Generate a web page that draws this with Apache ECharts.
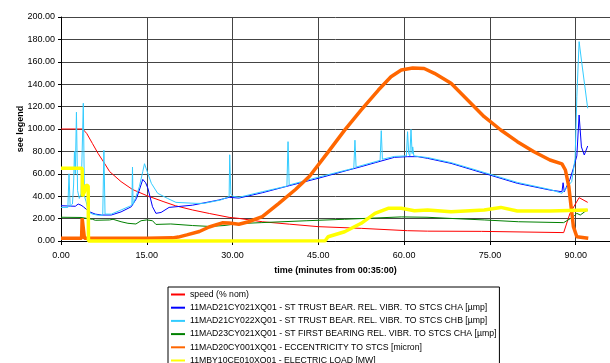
<!DOCTYPE html>
<html>
<head>
<meta charset="utf-8">
<script src="https://cdn.jsdelivr.net/npm/echarts@6/dist/echarts.min.js"></script>
<style>
  html, body { margin: 0; padding: 0; background: #fff; }
  #chart { width: 610px; height: 363px; }
</style>
</head>
<body>
<div id="chart"></div>
<script>
// Trend of turbine run-down: [minutes from 00:35:00, value]
var speedPts = [[0,100],[3.8,100],[4.5,96],[5.5,87],[6.5,78],[7.6,69.4],[8.5,62],[10.5,53],[12.5,46],[15,40.5],[18,35],[20,31.5],[23,27.7],[26,24.5],[29.4,21.1],[31.1,20.2],[35.2,17.2],[40,15],[45,12.8],[52.5,11.3],[60.6,9.2],[64.1,8.8],[73.5,8.6],[73.7,7.8],[87.9,7.5],[89,24.7],[90.6,38.7],[92.1,34.5]];

var chaPts = [[0,31.5],[2.5,31],[3,33],[3.5,32],[3.9,30.6],[4.5,28],[5,26],[6,24],[7.1,23.2],[8.8,23.2],[10.5,26],[12.3,30.6],[13.2,38],[13.7,45.5],[14.3,55],[14.8,52],[15.2,47],[16,30.6],[16.6,24.7],[17.5,25.5],[18.9,30],[21,31],[23,32],[25,34],[27.6,36.6],[29.4,39],[31.1,38.3],[35.2,43.1],[40,49.5],[45,56],[50,63],[52.5,66.4],[55,70],[58.3,74.7],[60.6,75.3],[62.4,75.3],[64.1,73.8],[68.2,69.3],[74,60.4],[79.8,51.5],[85.5,45.5],[87.6,44],[87.8,52],[88,44],[89,55],[89.6,65],[90.2,76],[90.6,112.5],[91,84],[91.5,76.8],[92.1,84.8]];

var chbPts = [[0,30],[1.2,30],[1.4,60],[1.6,31],[2,33],[2.2,50],[2.35,80],[2.5,60],[2.7,115],[2.9,45],[3.2,38],[3.5,42],[3.7,80],[3.9,123],[4.1,40],[4.4,35],[4.8,26],[5.5,24],[6.5,23],[7.3,23],[7.5,81],[7.7,24],[8.8,24],[10.5,27.7],[12,31],[12.4,32],[12.5,66],[12.6,33],[13,38],[13.7,48.5],[14.3,62],[14.6,69],[14.9,68],[15.8,51.5],[16.9,42.6],[18.6,38.1],[20.1,34.5],[23.6,33.6],[25,33.6],[27.9,36.6],[29.4,39.6],[29.5,77],[29.7,42],[30,40],[31.1,39],[35.2,44],[39.5,49],[39.7,88.7],[39.9,50],[45,57],[51.2,65],[51.4,90],[51.6,66],[55.8,72],[56,98.5],[56.2,73],[58.3,75.5],[60.4,76],[60.6,97.6],[60.8,78],[61,76],[61.2,99.7],[61.4,78],[61.5,84],[61.7,76],[64.1,74.5],[68.2,70],[74,61.2],[79.8,52.3],[85.5,46],[87.6,42.6],[87.9,42.6],[89.3,53],[89.9,73.8],[90.2,128.8],[90.6,178],[91,161.6],[92.1,118.5]];

var firstBrgPts = [[0,21.2],[3.5,21],[4.5,20.2],[5.5,19.4],[6,18.5],[8.5,18.8],[9.1,19.4],[10.5,17.2],[11.7,15.8],[13.1,15.2],[14,18.1],[15,18.8],[16,18.1],[16.6,14.8],[19.2,15.2],[23,13.8],[26,13],[28.5,13.8],[31,15.5],[35,16.4],[43,18.1],[49.6,19.4],[59.5,21.5],[64,21.2],[68,20.2],[74,18.8],[80,17.2],[87.9,16.4],[89.6,21.7],[90.2,24.7],[90.8,23.2],[91.6,26.2],[92.1,27.7]];

var eccPts = [[0,2.5],[3.6,2.5],[3.7,20.3],[3.9,20.3],[4.1,2.5],[10,2.5],[15,2.5],[19.5,2.8],[20.5,3.5],[22,5.5],[24.2,8.5],[25.9,12.5],[28.2,16.2],[29.4,16],[31.1,15],[32.8,17.2],[35.2,21.7],[38.1,33.6],[41,46],[43.5,58],[46.8,80],[49.6,99],[52.5,117],[55.5,134.8],[57.7,146.7],[59.5,152.7],[61.5,154.5],[63.5,154],[65.3,149.7],[68.2,140.8],[71.1,125.9],[74,111],[76.9,99.1],[79.8,88.7],[82.7,79.7],[85.5,72.3],[87.6,68.8],[88.2,63.4],[88.8,48.5],[89.2,30.6],[89.6,12.8],[90.2,3.8],[92.2,2.4]];

var loadPts = [[0,65],[3.7,65],[3.75,40],[4.1,44],[4.4,50],[4.75,49],[4.8,0],[20,0],[46.2,0.3],[46.7,3.8],[49.6,8.3],[52.5,15.8],[54.9,24.7],[57.2,29.2],[59.5,29.2],[61.8,27],[64.1,27.7],[68.2,26.2],[74,27.7],[76.9,30],[79.8,26.8],[85.5,26.8],[92.1,27.7]];

var seriesNames = [
  'speed (% nom)',
  '11MAD21CY021XQ01 - ST TRUST BEAR. REL. VIBR. TO STCS CHA [µmp]',
  '11MAD21CY022XQ01 - ST TRUST BEAR. REL. VIBR. TO STCS CHB [µmp]',
  '11MAD23CY021XQ01 - ST FIRST BEARING REL. VIBR. TO STCS CHA [µmp]',
  '11MAD20CY001XQ01 - ECCENTRICITY TO STCS [micron]',
  '11MBY10CE010XQ01 - ELECTRIC LOAD [MW]'
];
var seriesData = [speedPts, chaPts, chbPts, firstBrgPts, eccPts, loadPts];
var seriesColors = ['#FF0000', '#0000FF', '#33CCFF', '#008000', '#FF6600', '#FFFF00'];
var seriesWidths = [1, 1, 1, 1, 3.5, 3.5];

var fontFamily = '"Liberation Sans", Arial, sans-serif';

var chart = echarts.init(document.getElementById('chart'), null, { renderer: 'canvas' });

var series = seriesNames.map(function (name, i) {
  return {
    name: name,
    type: 'line',
    data: seriesData[i],
    symbol: 'none',
    showSymbol: false,
    clip: false,
    lineStyle: { color: seriesColors[i], width: seriesWidths[i] },
    itemStyle: { color: seriesColors[i] },
    emphasis: { disabled: true },
    z: 2 + i
  };
});

chart.setOption({
  animation: false,
  backgroundColor: '#ffffff',
  grid: { left: 61, top: 17, right: -3.5, bottom: 122, containLabel: false },
  xAxis: {
    type: 'value',
    min: 0,
    max: 96,
    interval: 15,
    name: 'time (minutes from 00:35:00)',
    nameLocation: 'middle',
    nameGap: 25,
    nameTextStyle: { fontFamily: fontFamily, fontSize: 9, fontWeight: 'bold', color: '#000' },
    axisLine: { show: true, onZero: false, lineStyle: { color: '#000', width: 1 } },
    axisTick: { show: true, length: 4, lineStyle: { color: '#000' } },
    axisLabel: {
      fontFamily: fontFamily, fontSize: 9, color: '#000', margin: 10,
      showMaxLabel: false,
      formatter: function (v) { return v.toFixed(2); }
    },
    splitLine: { show: true, lineStyle: { color: '#444', width: 1 } }
  },
  yAxis: {
    type: 'value',
    min: 0,
    max: 200,
    interval: 20,
    name: 'see legend',
    nameLocation: 'middle',
    nameRotate: 90,
    nameGap: 36,
    nameMoveOverlap: false,
    nameTextStyle: { fontFamily: fontFamily, fontSize: 9, fontWeight: 'bold', color: '#000' },
    axisLine: { show: true, lineStyle: { color: '#000', width: 1 } },
    axisTick: { show: true, length: 3, lineStyle: { color: '#000' } },
    axisLabel: {
      fontFamily: fontFamily, fontSize: 9, color: '#000', margin: 6,
      formatter: function (v) { return v.toFixed(2); }
    },
    splitLine: { show: true, lineStyle: { color: '#444', width: 1 } }
  },
  legend: {
    orient: 'vertical',
    left: 168,
    top: 287,
    height: 110,
    padding: [3, 3, 3, 2],
    itemGap: 4.2,
    itemWidth: 14,
    itemHeight: 9,
    backgroundColor: '#fff',
    borderColor: '#000',
    borderWidth: 1,
    borderRadius: 0,
    selectedMode: false,
    itemStyle: { color: 'rgba(0,0,0,0)', borderColor: 'rgba(0,0,0,0)', borderWidth: 0 },
    textStyle: { fontFamily: fontFamily, fontSize: 8.7, color: '#000' },
    data: seriesNames
  },
  series: series
});
</script>
</body>
</html>
